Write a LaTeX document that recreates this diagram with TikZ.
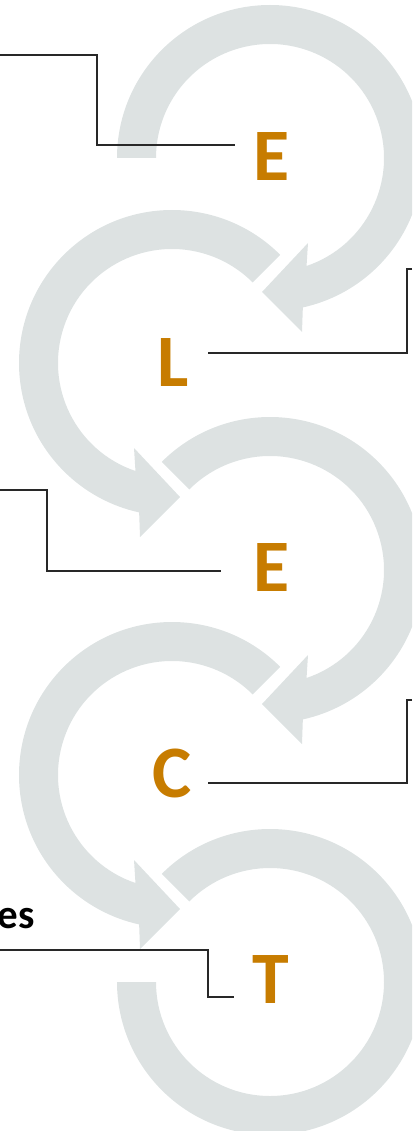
\documentclass[tikz,border=0pt]{standalone}
\usepackage{fontspec}
\setmainfont{Carlito}
\definecolor{ringgray}{RGB}{221,226,226}
\definecolor{letterorange}{RGB}{199,124,0}
\definecolor{leadgray}{RGB}{40,40,40}
\begin{document}
\begin{tikzpicture}[x=1pt,y=-1pt,
  ring/.style={fill=ringgray, draw=none},
  letter/.style={text=letterorange, font=\fontsize{74}{74}\selectfont\bfseries, inner sep=0pt, anchor=base},
  leader/.style={draw=leadgray, line width=1.1pt, line join=miter},
  label/.style={text=black, font=\fontsize{41}{41}\selectfont\bfseries, inner sep=0pt, anchor=base east}]
\clip (0,0) rectangle (412,1131);
% ring 1 (clockwise, arrow lower right)
\begin{scope}[shift={(270,158)}]
  \fill[ring] (180:153) arc[start angle=180, end angle=437.6, radius=153]
    -- (32,174) -- (-8,134) -- (38,85) -- (431.3:114)
    arc[start angle=431.3, end angle=180, radius=114] -- cycle;
\end{scope}
% ring 2 (counter-clockwise, arrow lower left)
\begin{scope}[shift={(172,363)}]
  \fill[ring] (315:153) arc[start angle=315, end angle=102.4, radius=153]
    -- (-32,174) -- (8,134) -- (-38,85) -- (108.7:114)
    arc[start angle=108.7, end angle=315, radius=114] -- cycle;
\end{scope}
% ring 3
\begin{scope}[shift={(270,570)}]
  \fill[ring] (225:153) arc[start angle=225, end angle=437.6, radius=153]
    -- (32,174) -- (-8,134) -- (38,85) -- (431.3:114)
    arc[start angle=431.3, end angle=225, radius=114] -- cycle;
\end{scope}
% ring 4
\begin{scope}[shift={(172,775)}]
  \fill[ring] (315:153) arc[start angle=315, end angle=102.4, radius=153]
    -- (-32,174) -- (8,134) -- (-38,85) -- (108.7:114)
    arc[start angle=108.7, end angle=315, radius=114] -- cycle;
\end{scope}
% ring 5
\begin{scope}[shift={(270,982)}]
  \fill[ring] (225:153) arc[start angle=225, end angle=540, radius=153]
    -- (540:114) arc[start angle=540, end angle=225, radius=114] -- cycle;
\end{scope}
% letters
\node[letter] (E1) at (271.7,180.7) {E};
\node[letter] (L)  at (173.3,386) {L};
\node[letter] (E2) at (271.7,591.7) {E};
\node[letter] (C)  at (171.7,797.5) {C};
\node[letter] (T)  at (270.8,1003) {T};
\node[label] (es) at (35,928) {es};
% leader lines
\coordinate (a0) at (0,55);   \coordinate (a1) at (97,55);
\coordinate (a2) at (97,145); \coordinate (a3) at (235,145);
\draw[leader] (a0) -- (a1) -- (a2) -- (a3);
\coordinate (b0) at (412,269); \coordinate (b1) at (407,269);
\coordinate (b2) at (407,353); \coordinate (b3) at (208,353);
\draw[leader] (b0) -- (b1) -- (b2) -- (b3);
\coordinate (c0) at (0,490);  \coordinate (c1) at (47,490);
\coordinate (c2) at (47,571); \coordinate (c3) at (221,571);
\draw[leader] (c0) -- (c1) -- (c2) -- (c3);
\coordinate (d0) at (412,700); \coordinate (d1) at (407,700);
\coordinate (d2) at (407,783); \coordinate (d3) at (208,783);
\draw[leader] (d0) -- (d1) -- (d2) -- (d3);
\coordinate (e0) at (0,950);   \coordinate (e1) at (208,950);
\coordinate (e2) at (208,997); \coordinate (e3) at (234,997);
\draw[leader] (e0) -- (e1) -- (e2) -- (e3);
\end{tikzpicture}
\end{document}
